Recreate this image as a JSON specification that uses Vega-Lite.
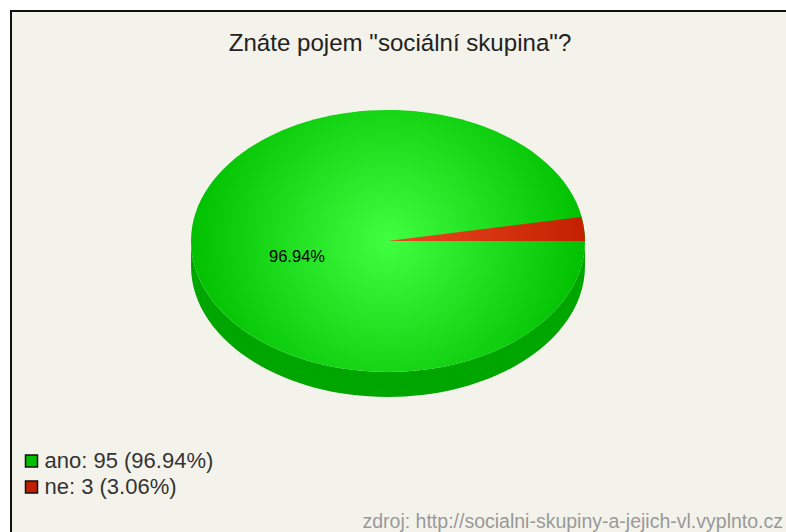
{
"$schema":"https://vega.github.io/schema/vega-lite/v6.json",
"autosize":"none",
"width":775,"height":521,
"padding":{"left":11,"top":11,"right":0,"bottom":0},
"background":"#ffffff",
"view":{"fill":"#f4f3eb","stroke":null},
"title":{"text":"Znáte pojem \"sociální skupina\"?","orient":"top","anchor":"middle","offset":-47,"dx":1.5,"font":"Liberation Sans","fontSize":24.1,"fontWeight":"normal","color":"#222222"},
"data":{"values":[
{"answer":"ano","count":95,"percent":96.94,"share":"96.94%","label":"ano: 95 (96.94%)"},
{"answer":"ne","count":3,"percent":3.06,"share":"3.06%","label":"ne: 3 (3.06%)"}
]},
"layer":[
{"mark":{"type":"rule","stroke":"#111111","strokeWidth":2,"strokeCap":"square"},
 "encoding":{"x":{"datum":-377,"type":"quantitative","axis":null,"scale":{"domain":[-377,398]}}}},
{"mark":{"type":"rule","stroke":"#111111","strokeWidth":2,"strokeCap":"square"},
 "encoding":{"y":{"datum":-230,"type":"quantitative","axis":null,"scale":{"domain":[-230,291],"reverse":true}}}},
{"transform":[{"filter":"datum.answer==='ano'"}],
 "mark":{"type":"point","filled":true,"opacity":1,"size":4,"fill":"#00a600","shape":"M-197,0 L-197,25 A197,131 0 0 0 197,25 L197,0 A197,131 0 0 1 -197,0 Z"},
 "encoding":{"x":{"datum":0,"type":"quantitative","axis":null,"scale":{"domain":[-377,398]}},"y":{"datum":0,"type":"quantitative","axis":null,"scale":{"domain":[-230,291],"reverse":true}}}},
{"transform":[{"filter":"datum.answer==='ano'"}],
 "mark":{"type":"point","filled":true,"opacity":1,"size":4,"fill":{"gradient":"radial","x1":0.5,"y1":0.5,"r1":0,"x2":0.5,"y2":0.5,"r2":0.5,"stops":[{"offset":0,"color":"#40ff40"},{"offset":1,"color":"#00c000"}]},"shape":"M-197,0 A197,131 0 1 1 197,0 A197,131 0 1 1 -197,0 Z"},
 "encoding":{"x":{"datum":0,"type":"quantitative","axis":null,"scale":{"domain":[-377,398]}},"y":{"datum":0,"type":"quantitative","axis":null,"scale":{"domain":[-230,291],"reverse":true}}}},
{"transform":[{"filter":"datum.answer==='ne'"}],
 "mark":{"type":"point","filled":true,"opacity":1,"size":4,"fill":{"gradient":"linear","x1":0,"y1":0,"x2":1,"y2":0,"stops":[{"offset":0,"color":"#ea4a22"},{"offset":1,"color":"#c42000"}]},"shape":"M0,0 L193.4,-24 A197,131 0 0 1 197,0 Z"},
 "encoding":{"x":{"datum":0,"type":"quantitative","axis":null,"scale":{"domain":[-377,398]}},"y":{"datum":0,"type":"quantitative","axis":null,"scale":{"domain":[-230,291],"reverse":true}}}},
{"transform":[{"filter":"datum.answer==='ano'"}],
 "mark":{"type":"text","font":"Liberation Sans","fontSize":16.5,"fill":"#000000","align":"center","baseline":"middle"},
 "encoding":{"text":{"field":"share","type":"nominal"},"x":{"datum":-91,"type":"quantitative","axis":null,"scale":{"domain":[-377,398]}},"y":{"datum":16,"type":"quantitative","axis":null,"scale":{"domain":[-230,291],"reverse":true}}}},
{"mark":{"type":"point","filled":true,"opacity":1,"size":0},
 "encoding":{"x":{"datum":0,"type":"quantitative","axis":null,"scale":{"domain":[-377,398]}},"y":{"datum":0,"type":"quantitative","axis":null,"scale":{"domain":[-230,291],"reverse":true}},
 "color":{"field":"label","type":"nominal","sort":null,"scale":{"domain":["ano: 95 (96.94%)","ne: 3 (3.06%)"],"range":["#00c000","#c02000"]},
 "legend":{"orient":"none","legendX":9.5,"legendY":439,"title":null,"symbolType":"square","symbolSize":144,"symbolStrokeColor":"#111111","symbolStrokeWidth":1.5,"symbolOpacity":1,"labelFont":"Liberation Sans","labelFontSize":22,"labelColor":"#333333","labelOffset":2,"rowPadding":4,"labelLimit":300}}}},
{"transform":[{"filter":"datum.answer==='ano'"}],
 "mark":{"type":"text","font":"Liberation Sans","fontSize":19.5,"fill":"#999999","align":"right","baseline":"alphabetic"},
 "encoding":{"text":{"value":"zdroj: http://socialni-skupiny-a-jejich-vl.vyplnto.cz"},"x":{"datum":395,"type":"quantitative","axis":null,"scale":{"domain":[-377,398]}},"y":{"datum":286.5,"type":"quantitative","axis":null,"scale":{"domain":[-230,291],"reverse":true}}}}
]
}
